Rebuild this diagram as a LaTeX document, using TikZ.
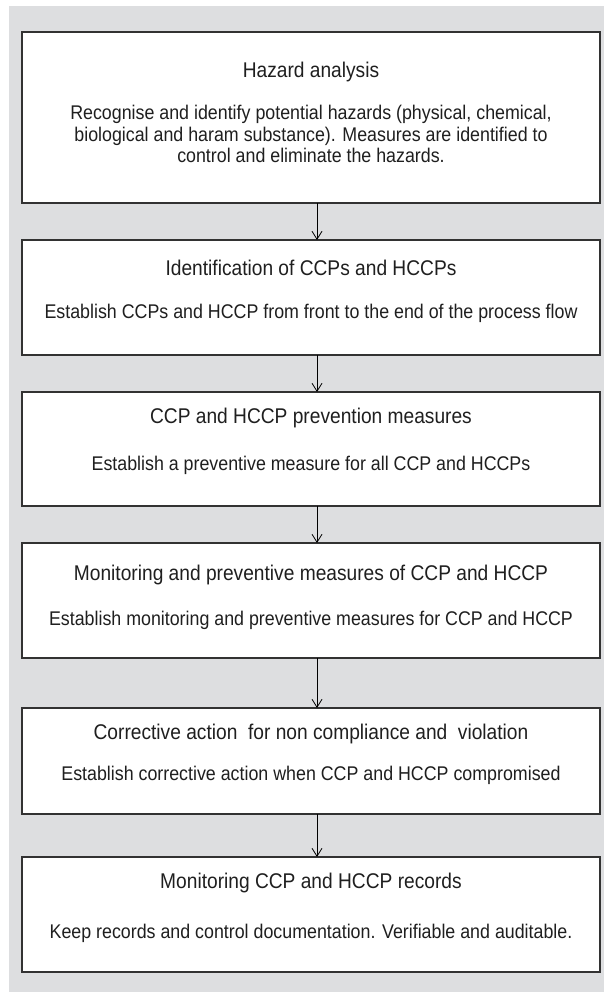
\documentclass[tikz,border=0pt]{standalone}
\usepackage{fontspec}
\setmainfont{Liberation Sans}[FakeStretch=0.9]
\usetikzlibrary{arrows.meta}
\definecolor{bggray}{RGB}{221,222,224}
\definecolor{edge}{RGB}{50,50,50}
\tikzset{
  x=1pt, y=-1pt,
  stepbox/.style={draw=edge, line width=1.3pt, fill=white},
  ttl/.style={font=\fontsize{21.3}{24}\selectfont, text=black!88, inner sep=0pt, anchor=center},
  bdy/.style={font=\fontsize{19.8}{21.5}\selectfont, text=black!88, inner sep=0pt, align=center, anchor=center},
  flow/.style={draw=black, line width=0.8pt, -{Straight Barb[length=8pt,width=10pt]}}
}
\begin{document}
\begin{tikzpicture}
\useasboundingbox (0,0) rectangle (608,992);
\fill[white] (0,0) rectangle (608,992);
\fill[bggray] (9,6) rectangle (604,992);

\draw[stepbox] (22,32) rectangle (600,203);
\coordinate (b1b) at (317,203);
\node[ttl] (t1) at (311,72) {Hazard analysis};
\node[bdy] (d1) at (311,134) {Recognise and identify potential hazards (physical, chemical,\\biological and haram substance). Measures are identified to\\control and eliminate the hazards.};

\draw[stepbox] (22,240) rectangle (600,355);
\coordinate (b2t) at (317,240); \coordinate (b2b) at (317,355);
\node[ttl] (t2) at (311,268) {Identification of CCPs and HCCPs};
\node[bdy] (d2) at (311,313) {Establish CCPs and HCCP from front to the end of the process flow};

\draw[stepbox] (22,392) rectangle (600,506);
\coordinate (b3t) at (317,392); \coordinate (b3b) at (317,506);
\node[ttl] (t3) at (311,418) {CCP and HCCP prevention measures};
\node[bdy] (d3) at (311,465) {Establish a preventive measure for all CCP and HCCPs};

\draw[stepbox] (22,543) rectangle (600,658);
\coordinate (b4t) at (317,543); \coordinate (b4b) at (317,658);
\node[ttl] (t4) at (311,575) {Monitoring and preventive measures of CCP and HCCP};
\node[bdy] (d4) at (311,620) {Establish monitoring and preventive measures for CCP and HCCP};

\draw[stepbox] (22,708) rectangle (600,814);
\coordinate (b5t) at (317,708); \coordinate (b5b) at (317,814);
\node[ttl] (t5) at (311,734) {Corrective action\ \ for non compliance and\ \ violation};
\node[bdy] (d5) at (311,775) {Establish corrective action when CCP and HCCP compromised};

\draw[stepbox] (22,857) rectangle (600,972);
\coordinate (b6t) at (317,857);
\node[ttl] (t6) at (311,883) {Monitoring CCP and HCCP records};
\node[bdy] (d6) at (311,933) {Keep records and control documentation. Verifiable and auditable.};

\draw[flow] (b1b) -- (b2t);
\draw[flow] (b2b) -- (b3t);
\draw[flow] (b3b) -- (b4t);
\draw[flow] (b4b) -- (b5t);
\draw[flow] (b5b) -- (b6t);
\end{tikzpicture}
\end{document}
